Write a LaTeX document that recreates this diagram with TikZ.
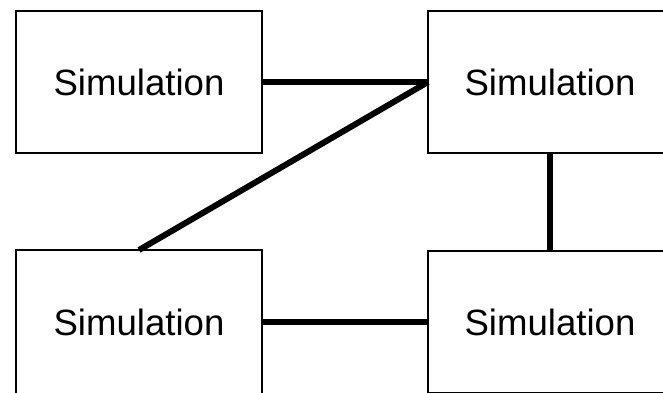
\documentclass[tikz,border=0pt]{standalone}
\usepackage{fontspec}
\setmainfont{Liberation Sans}
\begin{document}
\begin{tikzpicture}[x=1pt, y=-1pt,
  simbox/.style={draw=black, line width=2.5pt, fill=white, rectangle,
    inner sep=0pt, outer sep=0pt, align=center,
    font=\fontsize{36.6}{40}\selectfont},
  link/.style={draw=black, line width=6pt, line cap=butt}]
  \useasboundingbox (0,0) rectangle (663,392);
  \clip (0,0) rectangle (663,392);
  \fill[white] (0,0) rectangle (663,392);

  % four simulation blocks
  \node[simbox, minimum width=246pt, minimum height=142pt] (tl) at (139,82) {Simulation};
  \node[simbox, minimum width=244pt, minimum height=142pt] (tr) at (550,82) {Simulation};
  \node[simbox, minimum width=246pt, minimum height=144pt] (bl) at (139,322) {Simulation};
  \node[simbox, minimum width=244pt, minimum height=142pt] (br) at (550,322) {Simulation};

  % couplings between blocks
  \draw[link] (tl.east) -- (tr.west);
  \draw[link] (tr.west) -- (bl.north);
  \draw[link] (tr.south) -- (br.north);
  \draw[link] (bl.east) -- (br.west);
\end{tikzpicture}
\end{document}
